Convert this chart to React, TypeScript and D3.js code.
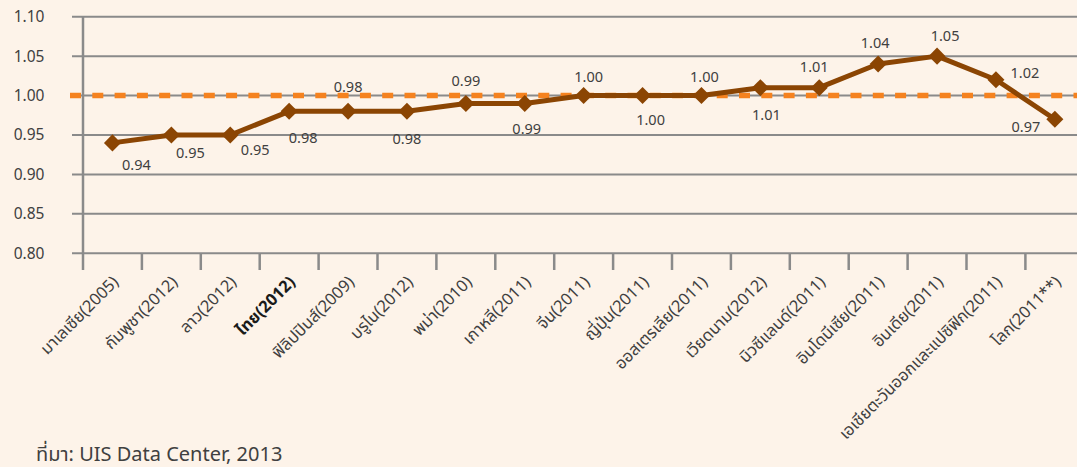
import React, { useEffect, useRef } from "react";
import * as d3 from "d3";

// Gender parity index by country (year of data in brackets)
const categories: string[] = [
  "มาเลเซีย(2005)",
  "กัมพูชา(2012)",
  "ลาว(2012)",
  "ไทย(2012)",
  "ฟิลิปปินส์(2009)",
  "บรูไน(2012)",
  "พม่า(2010)",
  "เกาหลี(2011)",
  "จีน(2011)",
  "ญี่ปุ่น(2011)",
  "ออสเตรเลีย(2011)",
  "เวียดนาม(2012)",
  "นิวซีแลนด์(2011)",
  "อินโดนีเซีย(2011)",
  "อินเดีย(2011)",
  "เอเชียตะวันออกและแปซิฟิก(2011)",
  "โลก(2011**)",
];

const values: number[] = [
  0.94, 0.95, 0.95, 0.98, 0.98, 0.98, 0.99, 0.99, 1.0, 1.0, 1.0, 1.01, 1.01,
  1.04, 1.05, 1.02, 0.97,
];

const yTicks: number[] = [0.8, 0.85, 0.9, 0.95, 1.0, 1.05, 1.1];
const parityLine = 1.0;
const highlighted = "ไทย(2012)";
const sourceNote = "ที่มา: UIS Data Center, 2013";

// Data label offsets (px) relative to each marker
const labelOffsets: [number, number][] = [
  [24, 22], [19, 18], [25, 15], [14, 27], [0, -24], [0, 28], [0, -23],
  [2, 25], [5, -19], [8, 24], [3, -19], [6, 27], [-5, -21], [-3, -21],
  [8, -20], [29, -7], [-29, 8],
];

const W = 1077;
const H = 467;
const FONT = "'Noto Sans', 'Noto Sans Thai', 'DejaVu Sans', sans-serif";

export default function App() {
  const ref = useRef<SVGSVGElement>(null);

  useEffect(() => {
    document.body.style.margin = "0";
    const svg = d3.select(ref.current);
    svg.selectAll("*").remove();

    const left = 83;
    const band = 58.9;
    const x = d3
      .scaleBand<string>()
      .domain(categories)
      .range([left, left + band * categories.length])
      .paddingInner(0)
      .paddingOuter(0);
    const y = d3.scaleLinear().domain([0.8, 1.1]).range([253.3, 16.7]);
    const cx = (c: string) => (x(c) as number) + x.bandwidth() / 2;

    svg
      .append("rect")
      .attr("width", W)
      .attr("height", H)
      .attr("fill", "#fdf3e9");

    // horizontal gridlines
    svg
      .append("g")
      .selectAll("line")
      .data(yTicks)
      .join("line")
      .attr("x1", 72)
      .attr("x2", W)
      .attr("y1", (d) => y(d))
      .attr("y2", (d) => y(d))
      .attr("stroke", "#8a8a8a")
      .attr("stroke-width", 2);

    // y tick labels
    svg
      .append("g")
      .selectAll("text")
      .data(yTicks)
      .join("text")
      .attr("x", 44.5)
      .attr("y", (d) => y(d))
      .attr("dy", "0.35em")
      .attr("text-anchor", "end")
      .attr("font-family", FONT)
      .attr("font-size", 15.5)
      .attr("fill", "#404040")
      .text((d) => d3.format(".2f")(d));

    // y axis line
    svg
      .append("line")
      .attr("x1", left)
      .attr("x2", left)
      .attr("y1", y(1.1))
      .attr("y2", 270)
      .attr("stroke", "#8a8a8a")
      .attr("stroke-width", 2.5);

    // category tick marks
    svg
      .append("g")
      .selectAll("line")
      .data(categories.slice(1))
      .join("line")
      .attr("x1", (d) => x(d) as number)
      .attr("x2", (d) => x(d) as number)
      .attr("y1", y(0.8))
      .attr("y2", 270)
      .attr("stroke", "#8a8a8a")
      .attr("stroke-width", 2.5);

    // category labels
    svg
      .append("g")
      .selectAll("text")
      .data(categories)
      .join("text")
      .attr("transform", (d) => `translate(${cx(d) + 3},${279}) rotate(-45)`)
      .attr("text-anchor", "end")
      .attr("dy", "0.35em")
      .attr("font-family", FONT)
      .attr("font-size", 16.5)
      .attr("font-weight", (d) => (d === highlighted ? 700 : 400))
      .attr("fill", (d) => (d === highlighted ? "#1a1a1a" : "#404040"))
      .text((d) => d);

    // parity reference line
    svg
      .append("line")
      .attr("x1", 70)
      .attr("x2", W)
      .attr("y1", y(parityLine))
      .attr("y2", y(parityLine))
      .attr("stroke", "#f5821f")
      .attr("stroke-width", 5.5)
      .attr("stroke-dasharray", "11 11.3");

    // series line
    const line = d3
      .line<number>()
      .x((_, i) => cx(categories[i]))
      .y((d) => y(d));
    svg
      .append("path")
      .datum(values)
      .attr("d", line)
      .attr("fill", "none")
      .attr("stroke", "#8b4503")
      .attr("stroke-width", 5)
      .attr("stroke-linejoin", "round");

    // diamond markers
    const diamond = d3.symbol().type(d3.symbolSquare).size(145);
    svg
      .append("g")
      .selectAll("path")
      .data(values)
      .join("path")
      .attr("d", diamond)
      .attr(
        "transform",
        (d, i) => `translate(${cx(categories[i])},${y(d)}) rotate(45)`
      )
      .attr("fill", "#8b4503");

    // data labels
    svg
      .append("g")
      .selectAll("text")
      .data(values)
      .join("text")
      .attr("x", (_, i) => cx(categories[i]) + labelOffsets[i][0])
      .attr("y", (d, i) => y(d) + labelOffsets[i][1])
      .attr("dy", "0.35em")
      .attr("text-anchor", "middle")
      .attr("font-family", FONT)
      .attr("font-size", 14.5)
      .attr("fill", "#404040")
      .text((d) => d3.format(".2f")(d));

    // source note
    svg
      .append("text")
      .attr("x", 36)
      .attr("y", 461)
      .attr("font-family", FONT)
      .attr("font-size", 20)
      .attr("fill", "#404040")
      .text(sourceNote);
  }, []);

  return (
    <svg
      ref={ref}
      width={W}
      height={H}
      style={{ display: "block" }}
    />
  );
}
